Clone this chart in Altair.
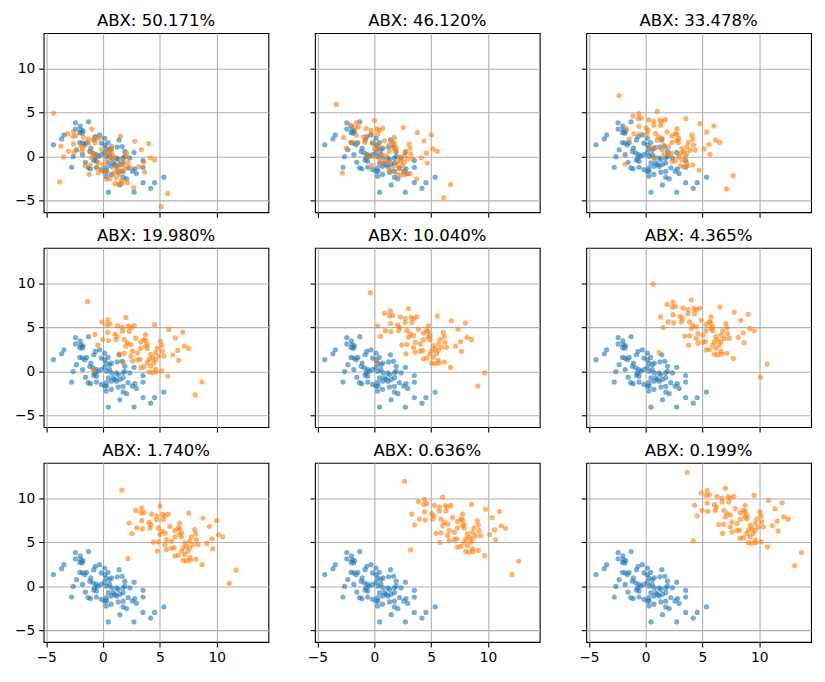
import altair as alt
import pandas as pd

titles = ["ABX: 50.171%", "ABX: 46.120%", "ABX: 33.478%",
          "ABX: 19.980%", "ABX: 10.040%", "ABX: 4.365%",
          "ABX: 1.740%", "ABX: 0.636%", "ABX: 0.199%"]

# shift of the orange cloud (same in x and y) for each panel
offsets = [0, 1, 2, 3, 4, 5, 6, 7, 8]

blue_x = [-2.42, -2.01, -1.28, -2.42, -1.95, -1.75, -1.83, -2.04, -3.43, -3.64,
          -4.36, -2.04, -1.80, -1.45, -1.60, -0.67, -0.81, -0.29, 0.15, -0.15,
          0.15, 0.44, 0.58, -2.33, -1.07, -1.16, -0.87, -0.58, -0.72, -0.44,
          -0.15, 0.15, 0.29, 0.58, -1.80, -2.62, -0.81, -0.58, -1.54, -2.76,
          -1.31, -1.10, -0.58, -0.15, 0.15, 0.29, 0.73, 0.29, 0.73, 0.47,
          1.42, 0.76, 1.25, 1.69, 1.92, 2.73, 0.76, 1.19, 1.34, 1.77,
          1.92, 2.36, 3.52, 0.90, 1.05, 1.19, 1.48, 1.77, 3.52, 2.21,
          2.79, 2.94, 2.59, 1.34, 1.77, 1.77, 2.07, 5.35, 3.52, 4.54,
          1.48, 4.19, 2.73, 0.47, 0.32, 0.32]
blue_y = [3.84, 3.47, 3.95, 3.13, 3.02, 2.91, 2.65, 2.72, 2.46, 2.01,
          1.34, 1.60, 1.52, 1.60, 1.34, 2.27, 1.90, 2.46, 2.08, 1.52,
          1.34, 1.60, 0.78, 0.78, 0.96, 0.59, 0.40, 0.22, -0.16, 0.03,
          0.22, 0.48, 0.96, 0.22, 0.22, 0.00, -0.41, -0.53, -0.64, -1.20,
          -1.27, -1.38, -1.20, -1.46, -1.65, -1.27, -1.09, -2.21, -2.02, -4.03,
          1.90, 0.96, 1.08, 1.15, 0.59, 0.48, -0.16, -0.16, -0.34, -0.16,
          0.03, -0.16, -0.45, -0.71, -0.90, -1.09, -0.90, -0.71, -1.20, -1.27,
          -1.38, -1.91, -1.65, -1.76, -1.68, -2.32, -2.51, -2.32, -2.95, -2.95,
          -3.21, -3.59, -4.03, -0.71, 0.03, -1.65]

orange_x = [-4.34, -3.11, -2.59, -2.65, -2.39, -0.99, -1.72, -1.28, -0.76, -0.55,
            -0.26, -3.70, -2.59, -3.03, -2.53, -3.46, -1.95, -1.78, -1.86, -1.28,
            -0.70, -1.13, -0.84, -0.99, -0.55, -0.12, 0.32, 0.75, 0.61, -0.41,
            0.03, 0.32, 0.75, -1.57, -1.13, -0.55, -0.41, 0.03, 0.26, -1.22,
            0.32, 0.61, -3.81,
            1.54, 2.79, 4.01, 3.37, 2.06, 0.75, 0.90, 0.90, 2.15, 4.16,
            4.54, 3.58, 3.14, 3.66, 1.77, 2.21, 1.63, 2.36, 1.92, 1.19,
            1.34, 1.05, 1.63, 1.48, 0.90, 1.19, 1.63, 1.05, 1.34, 1.69,
            2.15, 2.71, 5.70, 5.11]
orange_y = [4.91, 2.60, 2.86, 2.30, 2.37, 3.12, 2.19, 2.00, 2.15, 2.00,
            2.19, 1.18, 1.44, 0.62, 0.51, -0.02, 1.25, 0.99, 0.62, 1.55,
            1.55, 0.62, 0.24, -0.13, 0.06, 0.80, 0.35, 1.18, 0.62, -0.69,
            -0.88, -0.39, -0.13, -0.99, -0.95, -1.25, -1.81, -1.69, -1.62, -2.00,
            -2.56, -2.48, -2.85,
            2.30, 1.74, 1.47, 0.80, 0.43, 0.51, 0.06, -0.39, -0.05, -0.13,
            -0.39, -0.61, -1.13, -1.73, -0.39, -0.69, -0.88, -1.25, -1.25, -1.06,
            -1.44, -1.63, -1.63, -2.00, -2.00, -2.37, -2.73, -3.04, -3.12, -3.04,
            -2.93, -3.52, -4.16, -5.65]

tick_vals = [-5, 0, 5, 10]
BLUE = "#1f77b4"
ORANGE = "#ff7f0e"

xscale = alt.Scale(domain=[-5.22, 14.55], nice=False, zero=False)
yscale = alt.Scale(domain=[-6.3, 14.0], nice=False, zero=False)


def panel(i):
    k = offsets[i]
    row, col = divmod(i, 3)
    rows = [{"x": x, "y": y, "g": "a"} for x, y in zip(blue_x, blue_y)]
    rows += [{"x": x + k, "y": y + k, "g": "b"} for x, y in zip(orange_x, orange_y)]
    df = pd.DataFrame(rows)
    xaxis = alt.Axis(values=tick_vals, labels=(row == 2), title=None,
                     labelExpr="replace(datum.label, '-', '\u2212')")
    yaxis = alt.Axis(values=tick_vals, labels=(col == 0), title=None,
                     labelExpr="replace(datum.label, '-', '\u2212')")
    return (
        alt.Chart(df)
        .mark_circle(size=28, opacity=0.6)
        .encode(
            x=alt.X("x:Q", scale=xscale, axis=xaxis),
            y=alt.Y("y:Q", scale=yscale, axis=yaxis),
            color=alt.Color("g:N", scale=alt.Scale(domain=["a", "b"], range=[BLUE, ORANGE]), legend=None),
        )
        .properties(
            width=227, height=181,
            title=alt.TitleParams(titles[i], fontSize=16.7, font="DejaVu Sans",
                                  fontWeight="normal", color="black", anchor="middle",
                                  offset=3),
        )
    )


chart = (
    alt.concat(*[panel(i) for i in range(9)], columns=3,
               spacing={"row": 36, "column": 47}, bounds="flush")
    .properties(padding={"top": 1, "left": 5, "right": 5, "bottom": 5})
    .configure_view(stroke="black", strokeWidth=1.1)
    .configure_axis(domain=False, grid=True, gridColor="#b0b0b0", gridWidth=1.1,
                    tickColor="black", tickWidth=1.1, tickSize=5,
                    labelFont="DejaVu Sans", labelFontSize=13.9, labelColor="black",
                    labelPadding=4)
)

chart.save("out.html", embed_options={"renderer": "svg", "actions": False})
